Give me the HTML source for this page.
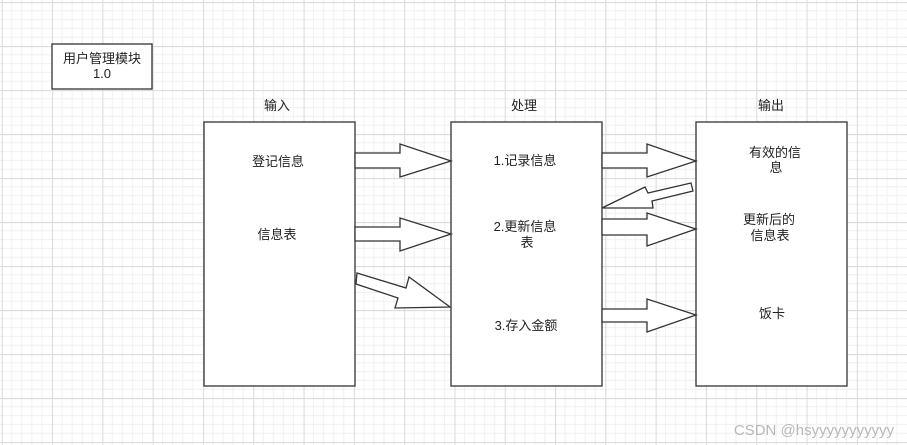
<!DOCTYPE html>
<html><head><meta charset="utf-8"><style>
html,body{margin:0;padding:0;background:#fff;}
svg{display:block;}
text{font-family:"Liberation Sans","Noto Sans CJK SC",sans-serif;font-size:13px;fill:#222;text-anchor:middle;}
</style></head><body>
<svg width="907" height="445" viewBox="0 0 907 445" xmlns="http://www.w3.org/2000/svg">
<defs>
<pattern id="g" x="1.7" y="2" width="50.3" height="44" patternUnits="userSpaceOnUse">
<path d="M10.06 0V44M20.12 0V44M30.18 0V44M40.24 0V44M0 8.8H50.3M0 17.6H50.3M0 26.4H50.3M0 35.2H50.3" stroke="#f0f0f0" stroke-width="1" fill="none"/>
<path d="M0.5 0V44M0 0.5H50.3" stroke="#dcdcdc" stroke-width="1.2" fill="none"/>
</pattern>
</defs>
<rect width="907" height="445" fill="url(#g)"/>
<g fill="#fff" stroke="#333" stroke-width="1.3">
<rect x="52" y="44" width="100" height="45"/>
<rect x="204" y="122" width="151" height="264"/>
<rect x="451" y="122" width="151" height="264"/>
<rect x="696" y="122" width="151" height="264"/>
<!-- left arrows -->
<polygon points="355,153 400,153 400,144 451,161 400,177 400,168 355,168"/>
<polygon points="355,227 400,227 400,218 451,234 400,251 400,241 355,241"/>
<polygon points="357,273 406,288 409,277 450,307 395,308 398,298 356,284"/>
<!-- right arrows -->
<polygon points="602,153 647,153 647,144 696,161 647,177 647,168 602,168"/>
<polygon points="602,219 647,219 647,213 696,229 647,246 647,235 602,235"/>
<polygon points="602,309 647,309 647,299 696,315 647,332 647,322 602,322"/>
<polygon points="602,208 645,187 648,193 691,183 693,191 652,201 653,208"/>
</g>
<text x="102" y="63">用户管理模块</text>
<text x="102" y="78">1.0</text>
<text x="277" y="110">输入</text>
<text x="524" y="110">处理</text>
<text x="771" y="110">输出</text>
<text x="278" y="166">登记信息</text>
<text x="277" y="239">信息表</text>
<text x="525" y="165">1.记录信息</text>
<text x="525" y="231">2.更新信息</text>
<text x="527" y="247">表</text>
<text x="526" y="330">3.存入金额</text>
<text x="775" y="157">有效的信</text>
<text x="776" y="172">息</text>
<text x="769" y="224">更新后的</text>
<text x="770" y="240">信息表</text>
<text x="772" y="318">饭卡</text>
<text x="814" y="435" style="font-size:15px;fill:#b8b8b8;">CSDN @hsyyyyyyyyyyy</text>
</svg>
</body></html>
